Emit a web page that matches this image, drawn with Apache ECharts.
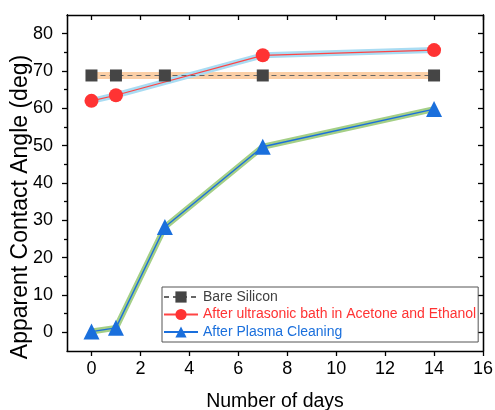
<!DOCTYPE html>
<html><head><meta charset="utf-8">
<script src="https://cdn.jsdelivr.net/npm/echarts@6/dist/echarts.min.js"></script>
<style>html,body{margin:0;padding:0;background:#fff}#c{width:495px;height:410px}</style>
</head><body><div id="c"></div>
<script>
const days = [0, 1, 3, 7, 14];
const bareSilicon = [68.8, 68.8, 68.8, 68.8, 68.8];
const ultrasonic = [62.0, 63.5, 74.2, 75.6];
const ultrasonicDays = [0, 1, 7, 14];
const plasma = [0.2, 1.2, 28.2, 49.7, 59.8];
const xTicks = [0, 2, 4, 6, 8, 10, 12, 14, 16];
const yTicks = [0, 10, 20, 30, 40, 50, 60, 70, 80];
const yMinor = [5, 15, 25, 35, 45, 55, 65, 75];
const names = ['Bare Silicon', 'After ultrasonic bath in Acetone and Ethanol', 'After Plasma Cleaning'];

const pair = (xs, ys) => xs.map((x, i) => [x, ys[i]]);
const FONT = 'Liberation Sans, Arial, sans-serif';
const chart = echarts.init(document.getElementById('c'));
const axisLine = { show: true, onZero: false, lineStyle: { color: '#000', width: 1.3 } };
const yBase = { type: 'value', min: -5, max: 85, splitLine: { show: false }, axisLine };
const xBase = { type: 'value', min: -1, max: 16, splitLine: { show: false }, axisLine };

chart.setOption({
  animation: false,
  grid: { left: 67, right: 12, top: 15, bottom: 59, containLabel: false, outerBoundsMode: 'none' },
  xAxis: [
    Object.assign({}, xBase, {
      position: 'bottom',
      name: 'Number of days', nameLocation: 'middle', nameGap: 41, nameMoveOverlap: false,
      nameTextStyle: { fontFamily: FONT, fontSize: 19.5, color: '#000' },
      axisTick: { show: true, inside: false, length: 5, customValues: xTicks, lineStyle: { color: '#000', width: 1.3 } },
      axisLabel: { customValues: xTicks, fontFamily: FONT, fontSize: 18, color: '#000', margin: 9 }
    }),
    Object.assign({}, xBase, {
      position: 'top',
      axisTick: { show: true, inside: true, length: 5, customValues: xTicks, lineStyle: { color: '#000', width: 1.3 } },
      axisLabel: { show: false }
    })
  ],
  yAxis: [
    Object.assign({}, yBase, {
      position: 'left',
      name: 'Apparent Contact Angle (deg)', nameLocation: 'middle', nameGap: 35, nameRotate: 90, nameMoveOverlap: false,
      nameTextStyle: { fontFamily: FONT, fontSize: 23, color: '#000', padding: [0, 48, 0, 0] },
      axisTick: { show: true, inside: false, length: 5, customValues: yTicks, lineStyle: { color: '#000', width: 1.3 } },
      axisLabel: { customValues: yTicks, fontFamily: FONT, fontSize: 18, color: '#000', margin: 14 }
    }),
    Object.assign({}, yBase, {
      position: 'right',
      axisTick: { show: true, inside: true, length: 5, customValues: yTicks, lineStyle: { color: '#000', width: 1.3 } },
      axisLabel: { show: false }
    }),
    Object.assign({}, yBase, {
      position: 'left',
      axisTick: { show: true, inside: false, length: 3, customValues: yMinor, lineStyle: { color: '#000', width: 1.3 } },
      axisLabel: { show: false }
    }),
    Object.assign({}, yBase, {
      position: 'right',
      axisTick: { show: true, inside: true, length: 3, customValues: yMinor, lineStyle: { color: '#000', width: 1.3 } },
      axisLabel: { show: false }
    })
  ],
  legend: {
    orient: 'vertical', left: 162, top: 287,
    padding: [3, 2, 3, 1],
    itemGap: 3.5, itemWidth: 34, itemHeight: 14,
    borderColor: '#555', borderWidth: 1,
    textStyle: { fontFamily: FONT, fontSize: 14 },
    data: [
      { name: names[0], textStyle: { color: '#404040' } },
      { name: names[1], textStyle: { color: '#ff3333' } },
      { name: names[2], textStyle: { color: '#1a6fdc' } }
    ]
  },
  series: [
    { type: 'line', name: 'band0', data: pair(days, bareSilicon), symbol: 'none', silent: true,
      lineStyle: { color: '#fbcfa6', width: 7 }, z: 1 },
    { type: 'line', name: 'band1', data: pair(ultrasonicDays, ultrasonic), symbol: 'none', silent: true,
      lineStyle: { color: '#a9dcf3', width: 6 }, z: 1 },
    { type: 'line', name: 'band2', data: pair(days, plasma), symbol: 'none', silent: true,
      lineStyle: { color: '#a4cf86', width: 6 }, z: 1 },
    { type: 'line', name: names[1], data: pair(ultrasonicDays, ultrasonic),
      symbol: 'circle', symbolSize: 14,
      itemStyle: { color: '#ff3333' }, lineStyle: { color: '#ff4444', width: 1.2 }, z: 3 },
    { type: 'line', name: names[0], data: pair(days, bareSilicon),
      symbol: 'rect', symbolSize: 12,
      itemStyle: { color: '#454545' }, lineStyle: { color: '#666', width: 1.2, type: [5, 4] }, z: 4 },
    { type: 'line', name: names[2], data: pair(days, plasma),
      symbol: 'triangle', symbolSize: 16,
      itemStyle: { color: '#1a6fdc' }, lineStyle: { color: '#1a6fdc', width: 1.4 }, z: 5 }
  ]
});
</script></body></html>
